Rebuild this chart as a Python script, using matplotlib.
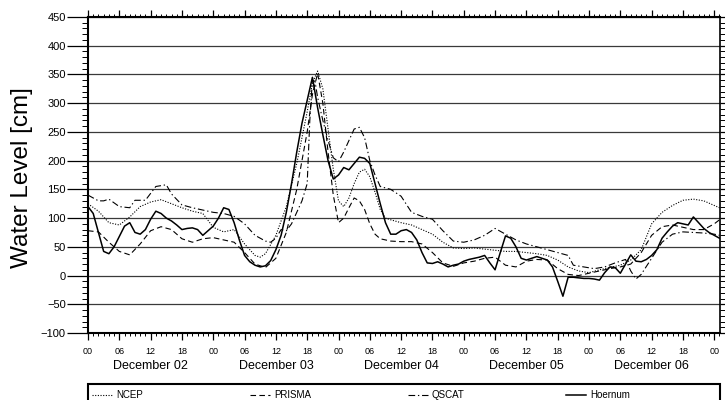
#!/usr/bin/env python3
"""Water level time series at Hoernum vs. three wind-forced model runs, 2-6 December."""

import matplotlib
matplotlib.use("Agg")
import matplotlib.pyplot as plt
import matplotlib.transforms as mtransforms
from matplotlib.lines import Line2D
from matplotlib.patches import Rectangle
from matplotlib.ticker import FuncFormatter, MultipleLocator

plt.rcParams["font.family"] = ["Liberation Sans", "DejaVu Sans"]

# hours since 2 December 00:00
DAY_LABELS = ["December 02", "December 03", "December 04", "December 05", "December 06"]

ncep_hours = [0, 2, 4, 6, 8, 10, 12, 14, 16, 18, 20, 22, 24, 26, 28, 30, 32,
              33, 34, 36, 38, 40, 42, 43, 44, 45, 46, 47, 48, 49, 50, 51, 52, 53, 54, 55, 56, 57, 58,
              60, 62, 64, 66, 68, 70, 72, 74, 76, 78, 80, 82, 84, 86, 88, 90,
              92, 94, 96, 98, 100, 102, 104, 106, 108, 110, 112, 114, 116, 118, 120, 121]
ncep_level = [125, 112, 92, 88, 102, 120, 128, 132, 125, 118, 112, 108, 84, 76, 80, 55, 35,
              32, 38, 70, 120, 195, 285, 335, 356, 325, 255, 185, 130, 120, 135, 160, 180, 185, 172, 145, 115, 100, 97,
              92, 88, 80, 72, 58, 48, 47, 48, 46, 44, 42, 42, 40, 38, 35, 27,
              15, 8, 5, 10, 14, 18, 27, 45, 90, 110, 122, 131, 133, 130, 122, 118]

prisma_hours = [0, 2, 4, 6, 8, 10, 12, 14, 16, 18, 20, 22, 24, 26, 28, 30, 32, 34,
                36, 38, 40, 42, 43, 44, 45, 46, 47, 48, 49, 50, 51, 52, 53, 54, 55, 56,
                58, 60, 62, 64, 66, 68, 70, 72, 74, 76, 78, 80, 82, 84, 86, 88, 90,
                92, 94, 96, 98, 100, 102, 104, 106, 108, 110, 112, 114, 116, 118, 120, 121]
prisma_level = [78, 76, 58, 42, 36, 55, 78, 85, 80, 64, 58, 64, 66, 62, 58, 40, 20, 14,
                30, 75, 150, 250, 315, 352, 300, 215, 140, 92, 100, 118, 135, 130, 115, 90, 72, 64,
                60, 59, 59, 55, 40, 22, 16, 22, 25, 30, 32, 18, 15, 25, 28, 27, 12,
                2, 0, 4, 8, 12, 15, 20, 40, 70, 85, 88, 84, 80, 80, 90, 97]

qscat_hours = [0, 2, 3, 4, 6, 8, 9, 11, 13, 15, 16, 18, 20, 22, 24, 26, 28, 30, 32, 34, 35,
               36, 37, 38, 39, 40, 41, 42, 42.5, 43, 43.5, 44, 45, 46, 47, 48, 49, 50, 51, 52, 53,
               54, 55, 56, 58, 60, 62, 64, 66, 68, 70, 72, 74, 76, 78, 80, 82, 84, 86, 88, 90,
               92, 93, 95, 97, 99, 101, 103, 104, 105, 106, 108, 110, 112, 114, 116, 118, 120, 121]
qscat_level = [140, 130, 130, 133, 120, 118, 131, 131, 155, 158, 142, 123, 118, 114, 110, 108, 103, 90, 70, 60, 58,
               65, 80, 78, 90, 110, 130, 160, 270, 340, 338, 310, 270, 235, 205, 198, 215, 235, 255, 258, 240,
               200, 175, 155, 150, 138, 110, 103, 98, 78, 60, 58, 62, 70, 82, 72, 62, 55, 50, 45, 40,
               35, 18, 15, 12, 15, 22, 28, 8, -6, 2, 30, 58, 72, 76, 75, 74, 72, 70]

# tide gauge, hourly
hoernum_hours = list(range(122))
hoernum_level = [120, 108, 75, 42, 38, 50, 68, 86, 92, 75, 72, 80, 98, 112, 108, 100, 95, 88, 80, 82,
                 83, 80, 70, 78, 86, 100, 118, 115, 92, 62, 35, 24, 18, 15, 17, 26, 45, 70, 110, 160,
                 215, 265, 305, 345, 292, 245, 200, 168, 175, 188, 184, 195, 206, 204, 195, 160, 125, 92, 72, 72,
                 78, 80, 75, 62, 40, 22, 21, 24, 20, 15, 18, 20, 25, 28, 30, 32, 35, 22, 10, 40,
                 69, 65, 50, 30, 27, 30, 33, 30, 27, 15, -10, -36, -3, -3, -4, -5, -5, -6, -8, 5,
                 15, 14, 4, 20, 36, 25, 24, 28, 35, 45, 65, 76, 86, 92, 90, 88, 102, 92, 82, 75,
                 70, 65]

SERIES = [
    ("NCEP", ncep_hours, ncep_level, dict(lw=0.8, ls=(0, (1, 1.4)))),
    ("PRISMA", prisma_hours, prisma_level, dict(lw=0.8, ls=(0, (5, 3)))),
    ("QSCAT", qscat_hours, qscat_level, dict(lw=0.8, ls=(0, (6, 2.5, 1.2, 2.5)))),
    ("Hoernum", hoernum_hours, hoernum_level, dict(lw=1.1, ls="-")),
]

W, H = 725, 400
fig = plt.figure(figsize=(W / 100, H / 100), dpi=100)
ax = fig.add_axes([88 / W, 67 / H, 632 / W, 316 / H])

for name, hours, level, style in SERIES:
    ax.plot(hours, level, color="black", **style)

ax.set_xlim(0, 121.1)
ax.set_ylim(-100, 450)

ax.yaxis.set_major_locator(MultipleLocator(50))
ax.yaxis.set_minor_locator(MultipleLocator(10))
ax.xaxis.set_major_locator(MultipleLocator(6))
ax.xaxis.set_minor_locator(MultipleLocator(1))
ax.xaxis.set_major_formatter(FuncFormatter(lambda h, _: f"{int(round(h)) % 24:02d}"))
ax.yaxis.set_major_formatter(FuncFormatter(lambda v, _: f"{int(v)}".replace("-", "\u2212")))

ax.grid(True, axis="y", color="#3a3a3a", lw=0.9)
ax.set_axisbelow(True)

ax.tick_params(which="both", direction="out", color="black")
ax.tick_params(axis="x", which="major", length=4.8, width=0.9, top=True, labelsize=6.5, pad=5.5)
ax.tick_params(axis="x", which="minor", length=2.4, width=0.7, top=True)
ax.tick_params(axis="y", which="major", length=15, width=0.9, right=True, labelsize=8, pad=1)
ax.tick_params(axis="y", which="minor", length=4.3, width=0.7, right=True)

for side in ["left", "bottom", "top"]:
    ax.spines[side].set_linewidth(1.5)
ax.spines["right"].set_linewidth(1.2)

# day names under the hour ticks
day_trans = mtransforms.blended_transform_factory(ax.transData, ax.transAxes)
for i, label in enumerate(DAY_LABELS):
    ax.text(24 * i + 12, -0.105, label, transform=day_trans,
            ha="center", va="center", fontsize=9)

fig.text(22.5 / W, 1 - 178 / H, "Water Level [cm]", rotation=90,
         ha="center", va="center", fontsize=17.5)

# legend strip along the bottom edge
fig.add_artist(Rectangle((88 / W, -0.05), 632 / W, 16 / H + 0.05, transform=fig.transFigure,
                         fill=False, lw=1.5, edgecolor="black", clip_on=False))
legend_y = 1 - 395 / H
for i, (name, hours, level, style) in enumerate(SERIES):
    x0 = 92 + 158 * i
    fig.add_artist(Line2D([x0 / W, (x0 + 20) / W], [legend_y, legend_y],
                          transform=fig.transFigure, color="black", **style))
    fig.text((x0 + 24) / W, legend_y, name, ha="left", va="center", fontsize=7)

fig.savefig("out.png", dpi=100)
